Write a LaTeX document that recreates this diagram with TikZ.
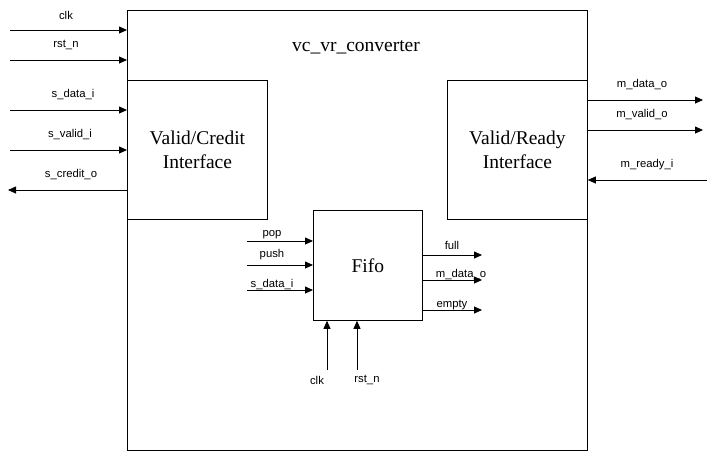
\documentclass[tikz,border=0pt]{standalone}
\usepackage{fontspec}
\setmainfont{Liberation Serif}
\newfontfamily\pinfont{Liberation Sans}
\usetikzlibrary{arrows.meta}
\usetikzlibrary{positioning}
\tikzset{
	blk/.style={draw, line width=0.8pt, inner sep=0pt},
	sig/.style={line width=0.8pt, -{Triangle[length=8pt,width=7pt]}},
	pin/.style={font=\pinfont\fontsize{11.3}{13}\selectfont, inner sep=0pt},
	big/.style={font=\fontsize{19.5}{24}\selectfont, align=center, inner sep=0pt}
}
\newcommand{\inpin}[4]{\coordinate (#1) at (10,#2);
					\draw[sig] (#1) -- (#1 -| top.west);
					\node[pin] (#1lbl) at (#3,#2-15) {#4};}

\begin{document}
\begin{tikzpicture}[x=1pt, y=-1pt]
					\useasboundingbox (0,0) rectangle (716,451);

					% outer block and inner parts
					\node[blk, anchor=north west, minimum width=460pt, minimum height=440pt] (top) at (127,10) {};
					\node[big] (title) at (356,47) {vc\_vr\_converter};
					\node[blk, anchor=north west, minimum width=140pt, minimum height=139pt] (vcif) at (127,80) {};
					\node[big] (vctext) at (vcif.center) {Valid/Credit\\Interface};
					\node[blk, anchor=north west, minimum width=140pt, minimum height=139pt] (vrif) at (447,80) {};
					\node[big] (vrtext) at (vrif.center) {Valid/Ready\\Interface};
					\node[blk, anchor=north west, minimum width=109pt, minimum height=110pt] (fifo) at (313,210) {};
					\node[big] (fifotext) at (fifo.center) {Fifo};

					% left side
					\inpin{clk}{30}{66}{clk}
					\inpin{rstn}{60}{66}{rst\_n}
					\inpin{sdata}{110}{73}{s\_data\_i}
					\inpin{svalid}{150}{70}{s\_valid\_i}
					\coordinate (scredit) at (8,190);
					\draw[sig] (scredit -| top.west) -- (scredit);
					\node[pin] (screditlbl) at (71,175) {s\_credit\_o};

					% right side
					\coordinate (mdata) at (703,100);
					\draw[sig] (mdata -| top.east) -- (mdata);
					\node[pin] (mdatalbl) at (642,85) {m\_data\_o};
					\coordinate (mvalid) at (703,130);
					\draw[sig] (mvalid -| top.east) -- (mvalid);
					\node[pin] (mvalidlbl) at (642,115) {m\_valid\_o};
					\coordinate (mready) at (707,180);
					\draw[sig] (mready) -- (mready -| top.east);
					\node[pin] (mreadylbl) at (647,165) {m\_ready\_i};

					% fifo pins
					\coordinate (fpop) at (247,241);
					\draw[sig] (fpop) -- (fpop -| fifo.west);
					\node[pin] (fpoplbl) at (272,235) {pop};
					\coordinate (fpush) at (247,265);
					\draw[sig] (fpush) -- (fpush -| fifo.west);
					\node[pin] (fpushlbl) at (272,255) {push};
					\coordinate (fdata) at (247,290);
					\draw[sig] (fdata) -- (fdata -| fifo.west);
					\node[pin] (fdatalbl) at (272,285) {s\_data\_i};

					\coordinate (ffull) at (482,255);
					\draw[sig] (ffull -| fifo.east) -- (ffull);
					\node[pin] (ffulllbl) at (452,245) {full};
					\coordinate (fout) at (482,280);
					\draw[sig] (fout -| fifo.east) -- (fout);
					\node[pin] (foutlbl) at (461,275) {m\_data\_o};
					\coordinate (fempty) at (482,310);
					\draw[sig] (fempty -| fifo.east) -- (fempty);
					\node[pin] (femptylbl) at (452,305) {empty};

					\coordinate (fclk) at (327,370);
					\draw[sig] (fclk) -- (fclk |- fifo.south);
					\node[pin] (fclklbl) at (317,380) {clk};
					\coordinate (frst) at (357,370);
					\draw[sig] (frst) -- (frst |- fifo.south);
					\node[pin] (frstlbl) at (367,380) {rst\_n};

\end{tikzpicture}
\end{document}
